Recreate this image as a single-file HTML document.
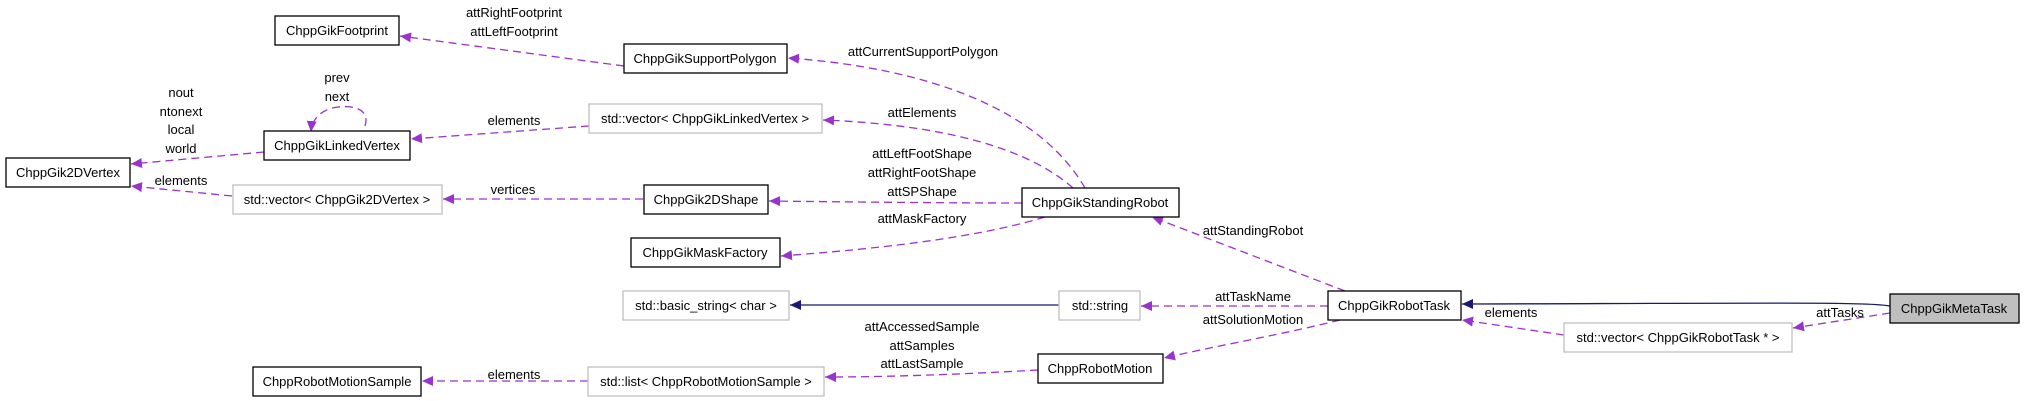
<!DOCTYPE html>
<html><head><meta charset="utf-8"><style>
html,body{margin:0;padding:0;background:#fff;}
svg{display:block;}
text{font-family:"Liberation Sans",Arial,sans-serif;font-size:13px;fill:#000;}
</style></head><body>
<svg width="2024" height="401" viewBox="0 0 2024 401" xmlns="http://www.w3.org/2000/svg">
<defs>
<marker id="ap" markerWidth="12" markerHeight="10" refX="11" refY="5" orient="auto" markerUnits="userSpaceOnUse">
<path d="M0,0 L11,5 L0,10 Z" fill="#9a32cd"/></marker>
<marker id="an" markerWidth="12" markerHeight="10" refX="11" refY="5" orient="auto" markerUnits="userSpaceOnUse">
<path d="M0,0 L11,5 L0,10 Z" fill="#191970"/></marker>
</defs>
<g fill="none" stroke="#9a32cd" stroke-width="1.3" stroke-dasharray="8,5" marker-end="url(#ap)">
<path d="M624,66 L400,36"/>
<path d="M1085,188 C1040,110 930,68 788,58"/>
<path d="M1073,188 C1030,150 950,125 823,120"/>
<path d="M1022,203 C950,203 850,202 769,201"/>
<path d="M1045,217 C970,240 860,250 781,256"/>
<path d="M1345,291 L1152,217"/>
<path d="M1328,306 L1141,306"/>
<path d="M1340,320 C1280,335 1220,345 1164,358"/>
<path d="M1890,313 L1793,328"/>
<path d="M1564,335 L1462,320"/>
<path d="M1038,370 C950,375 880,377 825,377"/>
<path d="M588,381 L422,381"/>
<path d="M643,199 L443,199"/>
<path d="M589,126 L411,139"/>
<path d="M264,152 L131,164"/>
<path d="M232,196 L131,186"/>
<path d="M365,126 C370,110 355,105 338,107 C322,109 312,118 311,132"/>
</g>
<g fill="none" stroke="#191970" stroke-width="1.3" marker-end="url(#an)">
<path d="M1890,306 C1870,302 1800,303 1462,304"/>
<path d="M1059,305 L790,305"/>
</g>
<g stroke-width="1.3">
<rect x="275" y="16" width="124" height="29" fill="#fff" stroke="#000"/>
<rect x="624" y="44" width="163" height="29" fill="#fff" stroke="#000"/>
<rect x="264" y="131" width="146" height="29" fill="#fff" stroke="#000"/>
<rect x="6" y="158" width="124" height="29" fill="#fff" stroke="#000"/>
<rect x="233" y="185" width="209" height="29" fill="#fff" stroke="#bfbfbf"/>
<rect x="589" y="104" width="233" height="29" fill="#fff" stroke="#bfbfbf"/>
<rect x="644" y="185" width="124" height="29" fill="#fff" stroke="#000"/>
<rect x="631" y="238" width="149" height="29" fill="#fff" stroke="#000"/>
<rect x="623" y="291" width="166" height="29" fill="#fff" stroke="#bfbfbf"/>
<rect x="253" y="367" width="168" height="29" fill="#fff" stroke="#000"/>
<rect x="588" y="367" width="236" height="29" fill="#fff" stroke="#bfbfbf"/>
<rect x="1022" y="188" width="157" height="29" fill="#fff" stroke="#000"/>
<rect x="1059" y="291" width="81" height="29" fill="#fff" stroke="#bfbfbf"/>
<rect x="1038" y="354" width="125" height="29" fill="#fff" stroke="#000"/>
<rect x="1328" y="291" width="133" height="29" fill="#fff" stroke="#000"/>
<rect x="1890" y="294" width="129" height="29" fill="#bfbfbf" stroke="#000"/>
<rect x="1564" y="323" width="228" height="29" fill="#fff" stroke="#bfbfbf"/>
</g>
<g text-anchor="middle">
<text x="337" y="35">ChppGikFootprint</text>
<text x="705" y="63">ChppGikSupportPolygon</text>
<text x="337" y="150">ChppGikLinkedVertex</text>
<text x="68" y="177">ChppGik2DVertex</text>
<text x="337" y="204">std::vector&lt; ChppGik2DVertex &gt;</text>
<text x="705" y="123">std::vector&lt; ChppGikLinkedVertex &gt;</text>
<text x="706" y="204">ChppGik2DShape</text>
<text x="705" y="257">ChppGikMaskFactory</text>
<text x="706" y="310">std::basic_string&lt; char &gt;</text>
<text x="337" y="386">ChppRobotMotionSample</text>
<text x="706" y="386">std::list&lt; ChppRobotMotionSample &gt;</text>
<text x="1100" y="207">ChppGikStandingRobot</text>
<text x="1100" y="310">std::string</text>
<text x="1100" y="373">ChppRobotMotion</text>
<text x="1394" y="310">ChppGikRobotTask</text>
<text x="1954" y="313">ChppGikMetaTask</text>
<text x="1678" y="342">std::vector&lt; ChppGikRobotTask * &gt;</text>
<text x="514" y="17">attRightFootprint</text>
<text x="514" y="36">attLeftFootprint</text>
<text x="337" y="82">prev</text>
<text x="337" y="101">next</text>
<text x="181" y="97">nout</text>
<text x="181" y="116">ntonext</text>
<text x="181" y="134">local</text>
<text x="181" y="153">world</text>
<text x="514" y="125">elements</text>
<text x="181" y="185">elements</text>
<text x="513" y="194">vertices</text>
<text x="514" y="379">elements</text>
<text x="923" y="56">attCurrentSupportPolygon</text>
<text x="922" y="117">attElements</text>
<text x="922" y="158">attLeftFootShape</text>
<text x="922" y="177">attRightFootShape</text>
<text x="922" y="196">attSPShape</text>
<text x="922" y="223">attMaskFactory</text>
<text x="1253" y="235">attStandingRobot</text>
<text x="1253" y="301">attTaskName</text>
<text x="1253" y="324">attSolutionMotion</text>
<text x="922" y="331">attAccessedSample</text>
<text x="922" y="350">attSamples</text>
<text x="922" y="368">attLastSample</text>
<text x="1511" y="317">elements</text>
<text x="1840" y="317">attTasks</text>
</g>
</svg>
</body></html>
